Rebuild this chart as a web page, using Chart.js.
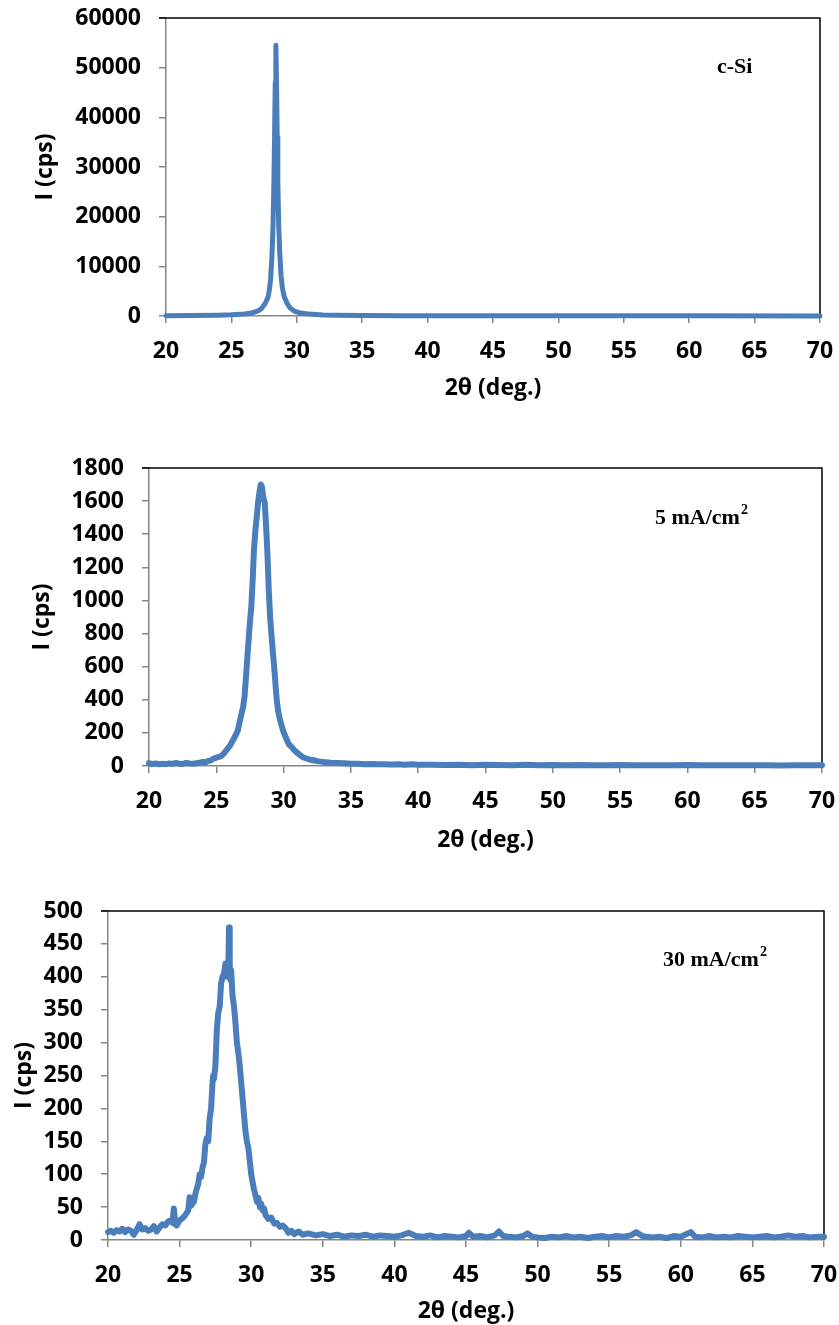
<!DOCTYPE html>
<html>
<head>
<meta charset="utf-8">
<script src="https://cdn.jsdelivr.net/npm/chart.js@4/dist/chart.umd.min.js"></script>
<style>
  body { margin: 0; background: #fff; width: 839px; height: 1325px; position: relative; overflow: hidden; }
  .box { position: absolute; left: 0; width: 839px; }
</style>
</head>
<body>
<div class="box" style="top:0;height:420px"><canvas id="c1" width="839" height="420"></canvas></div>
<div class="box" style="top:440px;height:440px"><canvas id="c2" width="839" height="440"></canvas></div>
<div class="box" style="top:890px;height:435px"><canvas id="c3" width="839" height="435"></canvas></div>
<script>
// x axis ticks (2 theta, degrees), shared by all three panels
const xTicks = [20, 25, 30, 35, 40, 45, 50, 55, 60, 65, 70];

// panel 1: c-Si reference
const yTicks1 = [0, 10000, 20000, 30000, 40000, 50000, 60000];
const x1 = [20, 22, 24, 25, 26, 26.5, 27, 27.3, 27.6, 27.8,
            27.9, 28.0, 28.1, 28.18, 28.25, 28.3, 28.35, 28.4, 28.45, 28.5,
            28.55, 28.62, 28.7, 28.8, 28.9, 29.05, 29.25, 29.5, 29.8, 30.3,
            31, 32, 33, 35, 38, 42, 50, 60, 70];
const y1 = [60, 90, 150, 230, 420, 600, 1000, 1500, 2600, 3800,
            5200, 7500, 12000, 18000, 27000, 36000, 47000, 54500, 47000, 36000,
            27000, 18000, 12500, 8000, 5600, 3800, 2600, 1600, 1000, 600,
            380, 220, 150, 90, 60, 45, 35, 30, 25];

// panel 2: 5 mA/cm2
const yTicks2 = [0, 200, 400, 600, 800, 1000, 1200, 1400, 1600, 1800];
const x2 = [20.0, 20.25, 20.5, 20.75, 21.0, 21.25, 21.5, 21.75, 22.0, 22.25,
            22.5, 22.75, 23.0, 23.25, 23.5, 23.75, 24.0, 24.2, 24.4, 24.6,
            24.8, 25.0, 25.2, 25.4, 25.6, 25.8, 26.0, 26.2, 26.4, 26.6,
            26.8, 27.0, 27.1, 27.2, 27.3, 27.4, 27.5, 27.6, 27.7, 27.8,
            27.9, 28.0, 28.1, 28.2, 28.3, 28.35, 28.4, 28.5, 28.6, 28.7,
            28.8, 28.9, 29.0, 29.1, 29.2, 29.3, 29.4, 29.5, 29.6, 29.7,
            29.8, 29.9, 30.0, 30.2, 30.4, 30.6, 30.8, 31.0, 31.2, 31.4,
            31.6, 31.8, 32.0, 32.3, 32.6, 33.0, 33.5, 34.0, 34.5, 35.0,
            35.5, 36, 36.5, 37, 37.5, 38, 38.5, 39, 39.5, 40,
            41, 42, 43, 44, 45, 46, 47, 48, 49, 50,
            51, 52, 53, 54, 55, 56, 57, 58, 59, 60,
            61, 62, 63, 64, 65, 66, 67, 68, 69, 70];
const y2 = [18, 12, 15, 10, 14, 11, 16, 13, 18, 14,
            12, 19, 15, 13, 17, 20, 25, 22, 30, 34,
            45, 50, 55, 62, 80, 100, 120, 150, 180, 215,
            290, 360, 420, 530, 650, 760, 870, 960, 1120, 1310,
            1420, 1500, 1590, 1650, 1700, 1695, 1680, 1620, 1590, 1450,
            1280, 1060, 900, 790, 690, 600, 490, 390, 330, 290,
            260, 230, 205, 165, 130, 115, 95, 80, 68, 55,
            48, 42, 38, 33, 28, 24, 20, 18, 16, 13,
            14, 11, 12, 10, 11, 9, 10, 8, 10, 7,
            8, 6, 7, 5, 7, 6, 5, 7, 5, 6,
            4, 6, 5, 4, 6, 5, 4, 5, 4, 6,
            4, 5, 4, 5, 4, 5, 3, 4, 5, 4];

// panel 3: 30 mA/cm2
const yTicks3 = [0, 50, 100, 150, 200, 250, 300, 350, 400, 450, 500];
const x3 = [20.0, 20.2, 20.4, 20.6, 20.8, 21.0, 21.2, 21.4, 21.6, 21.8,
            22.0, 22.2, 22.4, 22.6, 22.8, 23.0, 23.2, 23.4, 23.6, 23.8,
            24.0, 24.2, 24.4, 24.5, 24.6, 24.7, 24.8, 25.0, 25.2, 25.4,
            25.6, 25.7, 25.8, 26.0, 26.1, 26.2, 26.3, 26.4, 26.5, 26.6,
            26.7, 26.8, 26.9, 27.0, 27.1, 27.2, 27.3, 27.35, 27.4, 27.5,
            27.6, 27.7, 27.8, 27.9, 28.0, 28.1, 28.2, 28.3, 28.4, 28.45,
            28.5, 28.55, 28.6, 28.7, 28.8, 28.9, 29.0, 29.1, 29.2, 29.3,
            29.4, 29.5, 29.6, 29.7, 29.8, 29.9, 30.0, 30.1, 30.2, 30.3,
            30.4, 30.5, 30.6, 30.7, 30.8, 30.9, 31.0, 31.2, 31.4, 31.6,
            31.8, 32.0, 32.2, 32.4, 32.6, 32.8, 33.0, 33.3, 33.6, 34.0,
            34.5, 35.0, 35.5, 36.0, 36.5, 37.0, 37.5, 38.0, 38.5, 39.0,
            39.5, 40.0, 40.5, 41.0, 41.5, 42.0, 42.5, 43.0, 43.5, 44.0,
            44.5, 45.0, 45.2, 45.5, 46.0, 46.5, 47.0, 47.3, 47.6, 48.0,
            48.5, 49.0, 49.3, 49.6, 50.0, 50.5, 51.0, 51.5, 52.0, 52.5,
            53.0, 53.5, 54.0, 54.5, 55.0, 55.5, 56.0, 56.5, 56.9, 57.3,
            57.6, 58.0, 58.5, 59.0, 59.5, 60.0, 60.4, 60.7, 61.0, 61.5,
            62.0, 62.5, 63.0, 63.5, 64.0, 64.5, 65.0, 65.5, 66.0, 66.5,
            67.0, 67.5, 68.0, 68.5, 69.0, 69.5, 70.0];
const y3 = [12, 14, 11, 15, 13, 17, 12, 16, 14, 8,
            15, 24, 16, 18, 14, 16, 21, 13, 19, 24,
            22, 28, 30, 26, 48, 24, 22, 30, 33, 38,
            45, 65, 52, 58, 70, 78, 85, 100, 96, 110,
            118, 145, 155, 150, 185, 200, 240, 250, 245, 265,
            320, 345, 355, 390, 400, 405, 420, 400, 410, 475,
            420, 395, 410, 370, 355, 330, 300, 285, 265, 240,
            215, 190, 165, 150, 140, 120, 100, 88, 76, 68,
            58, 64, 50, 55, 45, 48, 38, 32, 34, 25,
            26, 20, 22, 18, 11, 14, 9, 13, 8, 10,
            7, 9, 6, 8, 5, 7, 6, 8, 5, 7,
            6, 5, 7, 11, 6, 5, 7, 4, 6, 5,
            4, 6, 11, 5, 6, 4, 7, 13, 6, 5,
            4, 6, 10, 5, 4, 3, 5, 4, 6, 4,
            5, 3, 5, 6, 4, 6, 5, 7, 12, 6,
            5, 4, 5, 3, 6, 5, 9, 12, 5, 4,
            6, 4, 5, 4, 6, 5, 4, 5, 6, 4,
            5, 7, 5, 6, 4, 5, 5];

const lineBlue = "#4a7ebb";
const axisGray = "#868686";
const tickFont = { family: "'Open Sans', sans-serif", weight: "bold", size: 23, lineHeight: 1.2 };

// black border on top and right of the plot area, like the spreadsheet chart
const framePlugin = {
    id: "frame",
    beforeDatasetsDraw(chart) {
        const a = chart.chartArea;
        const ctx = chart.ctx;
        ctx.save();
        ctx.strokeStyle = "#000";
        ctx.lineWidth = 1.5;
        ctx.beginPath();
        ctx.moveTo(a.left - 7, a.top);
        ctx.lineTo(a.right, a.top);
        ctx.lineTo(a.right, a.bottom);
        ctx.stroke();
        ctx.restore();
    }
};

// sample label drawn inside the plot, with optional superscript
function notePlugin(text, sup, x, y, supY) {
    return {
        id: "note",
        afterDraw(chart) {
            const ctx = chart.ctx;
            ctx.save();
            ctx.fillStyle = "#000";
            ctx.textBaseline = "alphabetic";
            ctx.font = "bold 22px 'Liberation Serif', serif";
            ctx.fillText(text, x, y);
            if (sup) {
                const w = ctx.measureText(text).width;
                ctx.font = "bold 14px 'Liberation Serif', serif";
                ctx.fillText(sup, x + w + 1, supY);
            }
            ctx.restore();
        }
    };
}

function makeChart(id, xs, ys, yTicks, g, note) {
    const points = xs.map((x, i) => ({ x: x, y: ys[i] }));
    new Chart(document.getElementById(id), {
        type: "line",
        data: {
            datasets: [{
                data: points,
                borderColor: lineBlue,
                borderWidth: g.lineWidth,
                borderJoinStyle: "round",
                borderCapStyle: "round",
                pointRadius: 0,
                tension: 0,
                fill: false,
                clip: 8
            }]
        },
        options: {
            responsive: false,
            animation: false,
            events: [],
            layout: { padding: { top: g.top, right: g.right, left: 0, bottom: 0 } },
            plugins: { legend: { display: false }, tooltip: { enabled: false } },
            scales: {
                x: {
                    type: "linear",
                    min: 20,
                    max: 70,
                    afterBuildTicks: s => { s.ticks = xTicks.map(v => ({ value: v })); },
                    afterFit: s => { s.height = g.xHeight; s.paddingLeft = 0; s.paddingRight = 0; },
                    ticks: { font: tickFont, color: "#000", padding: 15, maxRotation: 0, autoSkip: false, callback: v => String(v) },
                    grid: { drawOnChartArea: false, color: axisGray, lineWidth: 1.5, tickLength: 7 },
                    border: { color: axisGray, width: 1.5 },
                    title: { display: true, text: "2θ (deg.)", font: tickFont, color: "#000", padding: { top: 0, bottom: g.xTitlePad } }
                },
                y: {
                    min: yTicks[0],
                    max: yTicks[yTicks.length - 1],
                    afterBuildTicks: s => { s.ticks = yTicks.map(v => ({ value: v })); },
                    afterFit: s => { s.width = g.left; s.paddingTop = 0; s.paddingBottom = 0; },
                    ticks: { font: tickFont, color: "#000", padding: 18, callback: v => String(v) },
                    grid: { drawOnChartArea: false, color: axisGray, lineWidth: 1.5, tickLength: 7 },
                    border: { color: axisGray, width: 1.5 },
                    title: { display: true, text: "I (cps)", font: tickFont, color: "#000", padding: { top: g.yTitlePad, bottom: 0 } }
                }
            }
        },
        plugins: [framePlugin, note]
    });
}

makeChart("c1", x1, y1, yTicks1,
    { top: 18, right: 19, left: 166, xHeight: 104, xTitlePad: 18, yTitlePad: 32, lineWidth: 5 },
    notePlugin("c-Si", "", 717, 73, 0));
makeChart("c2", x2, y2, yTicks2,
    { top: 28, right: 17, left: 149, xHeight: 114, xTitlePad: 26, yTitlePad: 29, lineWidth: 6 },
    notePlugin("5 mA/cm", "2", 655, 84, 74));
makeChart("c3", x3, y3, yTicks3,
    { top: 21, right: 15, left: 108, xHeight: 85, xTitlePad: 0, yTitlePad: 11, lineWidth: 6 },
    notePlugin("30 mA/cm", "2", 663, 76, 66));
</script>
</body>
</html>
